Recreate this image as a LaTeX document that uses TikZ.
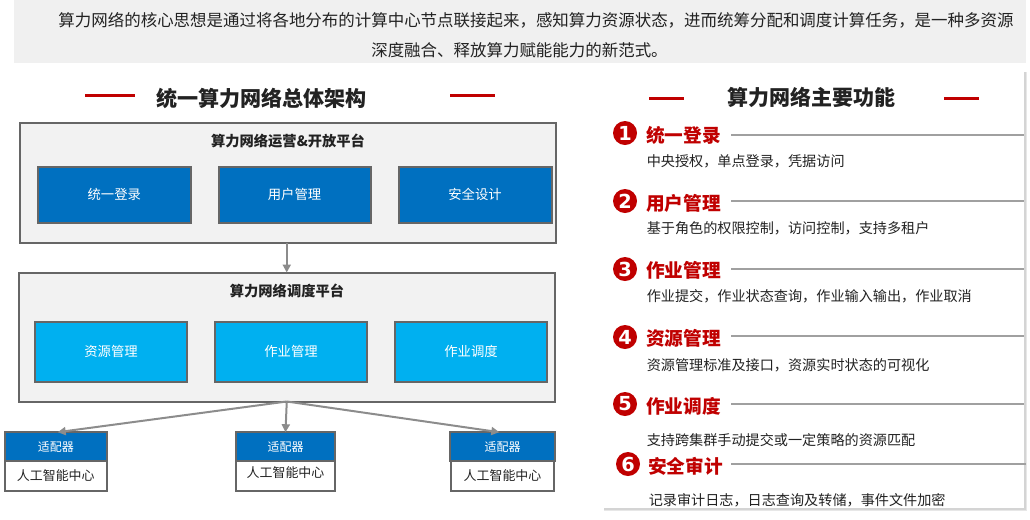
\documentclass[tikz,border=0pt]{standalone}
\usepackage{fontspec}
\setmainfont{Noto Sans CJK SC}
\newfontfamily\digitfont{DejaVu Sans}
\usetikzlibrary{arrows.meta}
\definecolor{bandgray}{HTML}{F0F0F0}
\definecolor{platgray}{HTML}{F2F2F2}
\definecolor{edgegray}{HTML}{666666}
\definecolor{arrowgray}{HTML}{8C8C8C}
\definecolor{rulegray}{HTML}{A0A0A0}
\definecolor{shadegray}{HTML}{D4D4D4}
\definecolor{deepblue}{HTML}{0070C0}
\definecolor{skyblue}{HTML}{00B0F0}
\definecolor{darkred}{HTML}{C00000}
\definecolor{inkdark}{HTML}{222222}
\newcommand{\fsz}[1]{\fontsize{#1pt}{#1pt}\selectfont}
\tikzset{
  wh/.style 2 args={minimum width=#1*0.75pt,minimum height=#2*0.75pt,inner sep=0pt,outer sep=0pt},
  platform/.style={draw=edgegray,line width=1.5pt,fill=platgray},
  bluebox/.style={draw=edgegray,line width=1.5pt,fill=deepblue,text=white,font=\fsz{10}},
  skybox/.style={draw=edgegray,line width=1.5pt,fill=skyblue,text=white,font=\fsz{10}},
  adapterhead/.style={draw=edgegray,line width=1.5pt,fill=deepblue,text=white,font=\fsz{9}},
  adapterbody/.style={draw=edgegray,line width=1.5pt,fill=white},
  centertext/.style={text=inkdark,font=\fsz{9.7},inner sep=0pt},
  platformtitle/.style={text=inkdark,font=\fsz{10.7}\bfseries,inner sep=0pt},
  introtext/.style={text=inkdark,font=\fsz{12.35},inner sep=0pt},
  redbar/.style={draw=darkred,line width=2.25pt},
  flow/.style={draw=arrowgray,line width=1.5pt,-{Triangle[length=6pt,width=6pt]}},
  numdot/.style={circle,fill=darkred,text=white,font=\digitfont\fsz{14.5}\bfseries,inner sep=0pt,minimum size=18pt,outer sep=0pt},
  itemhead/.style={anchor=west,text=darkred,font=\fsz{14}\bfseries,inner sep=0pt},
  itemdesc/.style={anchor=west,text=inkdark,font=\fsz{10.6},inner sep=0pt},
  itemrule/.style={draw=rulegray,line width=1.5pt},
}
\begin{document}
\begin{tikzpicture}[x=0.75pt,y=-0.75pt]
\useasboundingbox (0,0) rectangle (1030,519);
% top band
\fill[bandgray] (14,0) rectangle (1026,63);
\node[introtext] (intro1) at (536,20) {算力网络的核心思想是通过将各地分布的计算中心节点联接起来，感知算力资源状态，进而统筹分配和调度计算任务，是一种多资源};
\node[introtext] (intro2) at (519.5,50) {深度融合、释放算力赋能能力的新范式。};
% right panel with shadow
\fill[shadegray!55] (604,72) rectangle (1027,511);
\fill[shadegray] (604,72) rectangle (1026,510);
\fill[white] (602,70) rectangle (1024,508);
% left title
\node[text=inkdark,font=\fsz{15.8}\bfseries,inner sep=0pt] (ltitle) at (261.5,98) {统一算力网络总体架构};
\coordinate (lb1a) at (85,95); \coordinate (lb1b) at (135,95);
\coordinate (lb2a) at (450,95); \coordinate (lb2b) at (495,95);
\draw[redbar] (lb1a) -- (lb1b);
\draw[redbar] (lb2a) -- (lb2b);
% platform 1
\node[platform,wh={536}{120}] (plat1) at (287.5,182.5) {};
\node[platformtitle] (plat1t) at (288,141) {算力网络运营\&开放平台};
\node[bluebox,wh={152.5}{56}] (b1) at (114.25,194.5) {统一登录};
\node[bluebox,wh={152}{56}] (b2) at (294.5,194.5) {用户管理};
\node[bluebox,wh={153}{56}] (b3) at (475,194.5) {安全设计};
% platform 2
\node[platform,wh={535.5}{129}] (plat2) at (286.75,337) {};
\node[platformtitle] (plat2t) at (287,291) {算力网络调度平台};
\node[skybox,wh={152}{60}] (c1) at (111,351.5) {资源管理};
\node[skybox,wh={152}{60}] (c2) at (291,351.5) {作业管理};
\node[skybox,wh={152}{60}] (c3) at (471,351.5) {作业调度};
% adapters
\node[adapterbody,wh={101.5}{58}] (a1) at (55.75,461.5) {};
\node[adapterhead,wh={101.5}{28.5}] (h1) at (55.75,446.5) {适配器};
\node[centertext] (t1) at (55.75,475.5) {人工智能中心};
\node[adapterbody,wh={98.5}{58}] (a2) at (285.5,461.5) {};
\node[adapterhead,wh={98.5}{28.5}] (h2) at (285.5,446.5) {适配器};
\node[centertext] (t2) at (285.5,472.5) {人工智能中心};
\node[adapterbody,wh={103}{58}] (a3) at (502.5,461.5) {};
\node[adapterhead,wh={105}{28.5}] (h3) at (502.5,446.5) {适配器};
\node[centertext] (t3) at (502.5,475.5) {人工智能中心};
% connectors
\draw[flow] (plat1.south -| plat2.south) -- (plat2.north);
\coordinate (tip1) at (59,432);
\coordinate (tip3) at (498,432);
\draw[flow,shorten >=-1pt] (plat2.south) -- (tip1);
\draw[flow] (plat2.south) -- (h2.north);
\draw[flow,shorten >=-1pt] (plat2.south) -- (tip3);
% right title
\node[text=inkdark,font=\fsz{15.75}\bfseries,inner sep=0pt] (rtitle) at (811,97) {算力网络主要功能};
\coordinate (rb1a) at (649,98); \coordinate (rb1b) at (684,98);
\coordinate (rb2a) at (944,98); \coordinate (rb2b) at (979,98);
\draw[redbar] (rb1a) -- (rb1b);
\draw[redbar] (rb2a) -- (rb2b);
% items
\node[numdot] (n1) at (625,133) {1};
\node[itemhead] (i1) at (646,135) {统一登录};
\node[itemdesc] (d1) at (646.5,161) {中央授权，单点登录，凭据访问};
\coordinate (r1a) at (731,135); \coordinate (r1b) at (1024,135);
\draw[itemrule] (r1a) -- (r1b);
\node[numdot] (n2) at (625,201) {2};
\node[itemhead] (i2) at (646,203) {用户管理};
\node[itemdesc] (d2) at (646.5,228) {基于角色的权限控制，访问控制，支持多租户};
\coordinate (r2a) at (731,201); \coordinate (r2b) at (1024,201);
\draw[itemrule] (r2a) -- (r2b);
\node[numdot] (n3) at (625,269) {3};
\node[itemhead] (i3) at (646,270) {作业管理};
\node[itemdesc] (d3) at (646.5,296) {作业提交，作业状态查询，作业输入输出，作业取消};
\coordinate (r3a) at (731,269); \coordinate (r3b) at (1024,269);
\draw[itemrule] (r3a) -- (r3b);
\node[numdot] (n4) at (625,337) {4};
\node[itemhead] (i4) at (646,338) {资源管理};
\node[itemdesc] (d4) at (646.5,365) {资源管理标准及接口，资源实时状态的可视化};
\coordinate (r4a) at (731,336); \coordinate (r4b) at (1024,336);
\draw[itemrule] (r4a) -- (r4b);
\node[numdot] (n5) at (625,404) {5};
\node[itemhead] (i5) at (646,406) {作业调度};
\node[itemdesc] (d5) at (646.5,440) {支持跨集群手动提交或一定策略的资源匹配};
\coordinate (r5a) at (731,404); \coordinate (r5b) at (1024,404);
\draw[itemrule] (r5a) -- (r5b);
\node[numdot] (n6) at (628,464) {6};
\node[itemhead] (i6) at (648,466) {安全审计};
\node[itemdesc] (d6) at (648.5,500) {记录审计日志，日志查询及转储，事件文件加密};
\coordinate (r6a) at (731,464); \coordinate (r6b) at (1026,464);
\draw[itemrule] (r6a) -- (r6b);
\end{tikzpicture}
\end{document}
